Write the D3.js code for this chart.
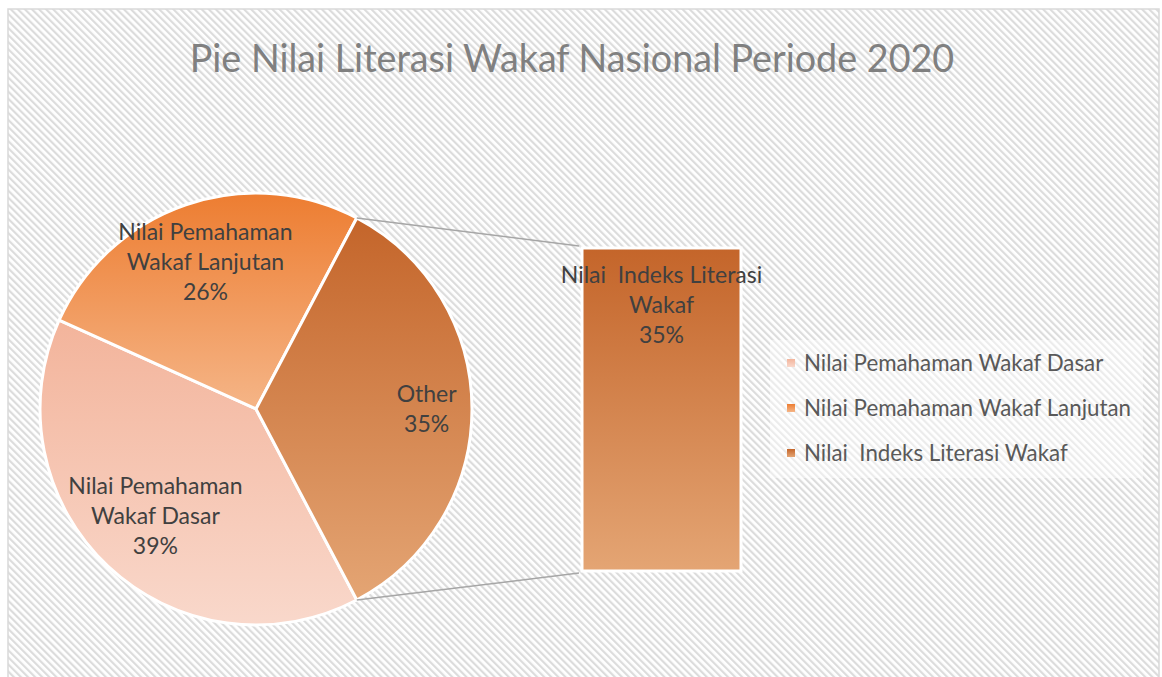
<!DOCTYPE html>
<html>
<head>
<meta charset="utf-8">
<script src="https://cdn.jsdelivr.net/npm/d3@7"></script>
<style>
html,body{margin:0;padding:0;background:#fff;}
svg{display:block;}
</style>
</head>
<body>
<svg id="chart" width="1162" height="677"></svg>
<script>
// ---- data ----
const categories = ["Nilai Pemahaman Wakaf Dasar", "Nilai Pemahaman Wakaf Lanjutan", "Nilai  Indeks Literasi Wakaf"];
const values = [57.67, 37.97, 50.48];
const pieLabels = [["Nilai Pemahaman", "Wakaf Dasar"], ["Nilai Pemahaman", "Wakaf Lanjutan"], ["Other"]];
const barLabel = ["Nilai  Indeks Literasi", "Wakaf"];
const title = "Pie Nilai Literasi Wakaf Nasional Periode 2020";

// ---- styles ----
const gradTop = ["#F3B49B", "#ED7D31", "#C4652A"];
const gradBot = ["#F9D8CB", "#F5B587", "#E4A574"];

const svg = d3.select("#chart");
const W = 1162, H = 677;
const defs = svg.append("defs");

const pat = defs.append("pattern").attr("id", "hatch")
  .attr("patternUnits", "userSpaceOnUse").attr("width", 5).attr("height", 5)
  .attr("patternTransform", "rotate(-45)");
pat.append("rect").attr("width", 5).attr("height", 5).attr("fill", "#ffffff");
pat.append("rect").attr("x", 0).attr("y", 0).attr("width", 2.2).attr("height", 5).attr("fill", "#DCDCDC");

categories.forEach((c, i) => {
  const g = defs.append("linearGradient").attr("id", "g" + i)
    .attr("x1", 0).attr("y1", 0).attr("x2", 0).attr("y2", 1);
  g.append("stop").attr("offset", "0%").attr("stop-color", gradTop[i]);
  g.append("stop").attr("offset", "100%").attr("stop-color", gradBot[i]);
});

// background
svg.append("rect").attr("width", W).attr("height", H).attr("fill", "#fff");
svg.append("rect").attr("x", 8).attr("y", 9).attr("width", 1151).attr("height", 690)
  .attr("fill", "url(#hatch)").attr("stroke", "#D9D9D9").attr("stroke-width", 1.5);

// title
svg.append("text").attr("x", 572).attr("y", 72).attr("text-anchor", "middle")
  .attr("font-family", "Lato").attr("font-weight", 400).attr("font-size", 37.7)
  .attr("fill", "#808080").text(title);

// pie
const cx = 256, cy = 409, R = 216;
const total = d3.sum(values);
const otherFrac = values[2] / total;
const pie = d3.pie().sort(null).value(d => d)
  .startAngle(Math.PI / 2 + Math.PI * otherFrac)
  .endAngle(Math.PI / 2 + Math.PI * otherFrac + 2 * Math.PI);
const arcs = pie(values);
const arc = d3.arc().innerRadius(0).outerRadius(R);
const gPie = svg.append("g").attr("transform", `translate(${cx},${cy})`);
gPie.selectAll("path").data(arcs).join("path")
  .attr("d", arc).attr("fill", (d, i) => `url(#g${i})`)
  .attr("stroke", "#fff").attr("stroke-width", 3).attr("stroke-linejoin", "round");

const pct = d3.format(".0%");
const labelFactor = [0.68, 0.72, 0.79];
const lh = 30;
arcs.forEach((a, i) => {
  const la = d3.arc().innerRadius(R * labelFactor[i]).outerRadius(R * labelFactor[i]);
  const [lx, ly] = la.centroid(a);
  const lines = pieLabels[i].concat([pct(a.value / total)]);
  const t = gPie.append("text").attr("text-anchor", "middle")
    .attr("font-family", "Lato").attr("font-size", 23).attr("fill", "#404040");
  lines.forEach((s, k) => {
    t.append("tspan").attr("x", lx).attr("y", ly + (k - (lines.length - 1) / 2) * lh + 8).text(s);
  });
});

// bar of pie
const bx0 = 582, bx1 = 741, bTop = 248, bBot = 571;
const y = d3.scaleLinear().domain([0, values[2]]).range([bBot, bTop]);
const x = d3.scaleBand().domain([categories[2]]).range([bx0, bx1]).padding(0);
svg.append("rect").attr("x", x(categories[2])).attr("y", y(values[2]))
  .attr("width", x.bandwidth()).attr("height", y(0) - y(values[2]))
  .attr("fill", "url(#g2)").attr("stroke", "#fff").attr("stroke-width", 3);

// connectors
const a2 = arcs[2];
const p1 = [cx + R * Math.sin(a2.startAngle), cy - R * Math.cos(a2.startAngle)];
const p2 = [cx + R * Math.sin(a2.endAngle), cy - R * Math.cos(a2.endAngle)];
svg.append("line").attr("x1", p1[0]).attr("y1", p1[1]).attr("x2", bx0 - 3).attr("y2", y(values[2]) - 2)
  .attr("stroke", "#A6A6A6").attr("stroke-width", 1.5);
svg.append("line").attr("x1", p2[0]).attr("y1", p2[1]).attr("x2", bx0 - 3).attr("y2", y(0) + 2)
  .attr("stroke", "#A6A6A6").attr("stroke-width", 1.5);

const bl = barLabel.concat([pct(values[2] / total)]);
const bt = svg.append("text").attr("text-anchor", "middle")
  .attr("font-family", "Lato").attr("font-size", 23).attr("fill", "#404040")
  .style("white-space", "pre");
bl.forEach((s, k) => {
  bt.append("tspan").attr("x", (bx0 + bx1) / 2).attr("y", 283 + k * lh)
    .style("white-space", "pre").text(s);
});

// legend
const lg = svg.append("g");
lg.append("rect").attr("x", 770).attr("y", 340).attr("width", 373).attr("height", 138)
  .attr("fill", "#fff").attr("fill-opacity", 0.45);
categories.forEach((c, i) => {
  const yy = 363 + i * 45;
  lg.append("rect").attr("x", 787).attr("y", yy - 4).attr("width", 8).attr("height", 8)
    .attr("fill", `url(#g${i})`);
  lg.append("text").attr("x", 804).attr("y", yy + 8)
    .attr("font-family", "Lato").attr("font-size", 22.3).attr("fill", "#595959")
    .style("white-space", "pre").text(c);
});
</script>
</body>
</html>
